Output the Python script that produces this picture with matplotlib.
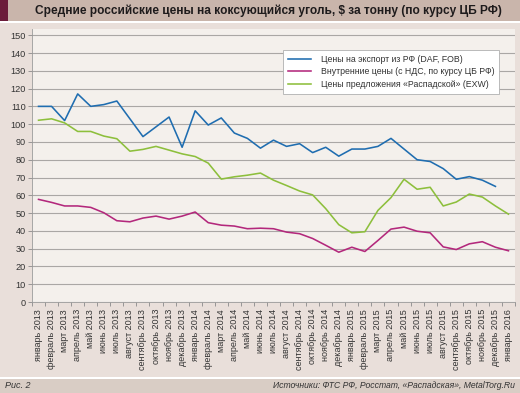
import numpy as np
import matplotlib
matplotlib.use('Agg')
import matplotlib.pyplot as plt
from matplotlib.patches import Rectangle

plt.rcParams['font.family'] = ['Liberation Sans', 'DejaVu Sans']

# ── Data ──────────────────────────────────────────────────────────────────────
month_names = ['январь', 'февраль', 'март', 'апрель', 'май', 'июнь', 'июль',
               'август', 'сентябрь', 'октябрь', 'ноябрь', 'декабрь']
years = [2013, 2014, 2015]
tick_labels = [f'{m} {y}' for y in years for m in month_names] + ['январь 2016']

export_prices = [110, 110, 102, 117, 110, 111, 113, 103, 93, 98.5, 104, 87,
                 107.5, 99.5, 103.5, 95, 92, 86.5, 91, 87.5, 89, 84, 87, 82,
                 86, 86, 87.5, 92, 86, 80, 79, 75, 69, 70.5, 68.5, 65, np.nan]
domestic_prices = [57.7, 56, 54, 54, 53.2, 50.2, 45.7, 45.1, 47.2, 48.3, 46.6, 48.3,
                   50.6, 44.6, 43.2, 42.7, 41.2, 41.5, 41.2, 39.3, 38.4, 35.7, 31.9, 28,
                   30.8, 28.4, 34.6, 41, 42.1, 39.8, 38.9, 31, 29.5, 32.7, 33.9, 30.8,
                   28.8]
raspadskaya_prices = [102.2, 103, 100.7, 95.9, 95.9, 93.3, 91.8, 84.8, 85.8, 87.5, 85.4, 83.3,
                      81.8, 78.1, 69.1, 70.4, 71.3, 72.5, 68.5, 65.5, 62.4, 60.2, 52.5, 43.5,
                      38.9, 39.5, 51.5, 58.7, 69, 63.4, 64.5, 54, 56.2, 60.7, 59, 54,
                      49.4]

series_labels = ['Цены на экспорт из РФ (DAF, FOB)',
                 'Внутренние цены (с НДС, по курсу ЦБ РФ)',
                 'Цены предложения «Распадской» (EXW)']
series_colors = ['#1f6db0', '#b3287c', '#8dbf3c']

# ── Figure & background bands ────────────────────────────────────────────────
W, H = 520, 393
fig = plt.figure(figsize=(W / 100, H / 100), dpi=100, facecolor='white')


def px_rect(x0, y0, x1, y1, color):
    """Rectangle in pixel coords (origin top-left)."""
    fig.patches.append(Rectangle((x0 / W, 1 - y1 / H), (x1 - x0) / W, (y1 - y0) / H,
                                 transform=fig.transFigure, facecolor=color,
                                 edgecolor='none', zorder=-10))


px_rect(0, 0, W, 21, '#c9b5ab')
px_rect(0, 0, 8, 21, '#6b1c3a')
px_rect(0, 23, W, 377, '#e9dfda')
px_rect(0, 379, W, H, '#d9cdc5')

fig.text(268 / W, 1 - 10.5 / H,
         'Средние российские цены на коксующийся уголь, $ за тонну (по курсу ЦБ РФ)',
         ha='center', va='center', fontsize=8.6, fontweight='bold', color='#1e1b1c')
fig.text(5 / W, 1 - 386 / H, 'Рис. 2', ha='left', va='center',
         fontsize=6.5, style='italic', color='#333333')
fig.text(515 / W, 1 - 386 / H,
         'Источники: ФТС РФ, Росстат, «Распадская», MetalTorg.Ru',
         ha='right', va='center', fontsize=6.2, style='italic', color='#333333')

# ── Plot ──────────────────────────────────────────────────────────────────────
ax_left, ax_right, ax_top, ax_bottom = 32, 515, 29, 302
ax = fig.add_axes([ax_left / W, 1 - ax_bottom / H,
                   (ax_right - ax_left) / W, (ax_bottom - ax_top) / H])
ax.set_facecolor('#f4f0ec')

x = np.arange(len(tick_labels))
for vals, lab, col in zip([export_prices, domestic_prices, raspadskaya_prices],
                          series_labels, series_colors):
    ax.plot(x, vals, color=col, linewidth=1.15, label=lab, zorder=3)

ax.set_xlim(-0.5, len(tick_labels) - 0.5)
ax.set_ylim(0, 153.5)
ax.set_yticks(np.arange(0, 151, 10))
ax.yaxis.grid(True, color='#aaa7a5', linewidth=0.8)
ax.set_axisbelow(True)

ax.set_xticks(x)
ax.set_xticklabels(tick_labels, rotation=90, fontsize=6.5, color='#333333')
ax.set_xticks(np.arange(-0.5, len(tick_labels), 1), minor=True)
ax.tick_params(axis='x', which='major', length=0, pad=5)
ax.tick_params(axis='x', which='minor', length=3, width=0.6, color='#8a8a8a')
ax.tick_params(axis='y', length=3, width=0.6, color='#8a8a8a', pad=1.5,
               labelsize=6.6, labelcolor='#333333')

for side in ['top', 'right']:
    ax.spines[side].set_visible(False)
ax.spines['left'].set_color('#9a9a9a')
ax.spines['left'].set_linewidth(0.6)
ax.spines['bottom'].set_color('#9a9a9a')
ax.spines['bottom'].set_linewidth(0.6)

leg = ax.legend(loc='upper right', bbox_to_anchor=(499 / W, 1 - 50 / H),
                bbox_transform=fig.transFigure, fontsize=6.3, frameon=True,
                fancybox=False, borderaxespad=0, handlelength=2.6,
                handletextpad=1.1, labelspacing=0.4, borderpad=0.55)
leg.get_frame().set_edgecolor('#b0b0b0')
leg.get_frame().set_linewidth(0.6)
leg.get_frame().set_facecolor('white')
leg.get_frame().set_alpha(1)
for t in leg.get_texts():
    t.set_color('#333333')

fig.savefig('out.png', dpi=100, facecolor='white')
